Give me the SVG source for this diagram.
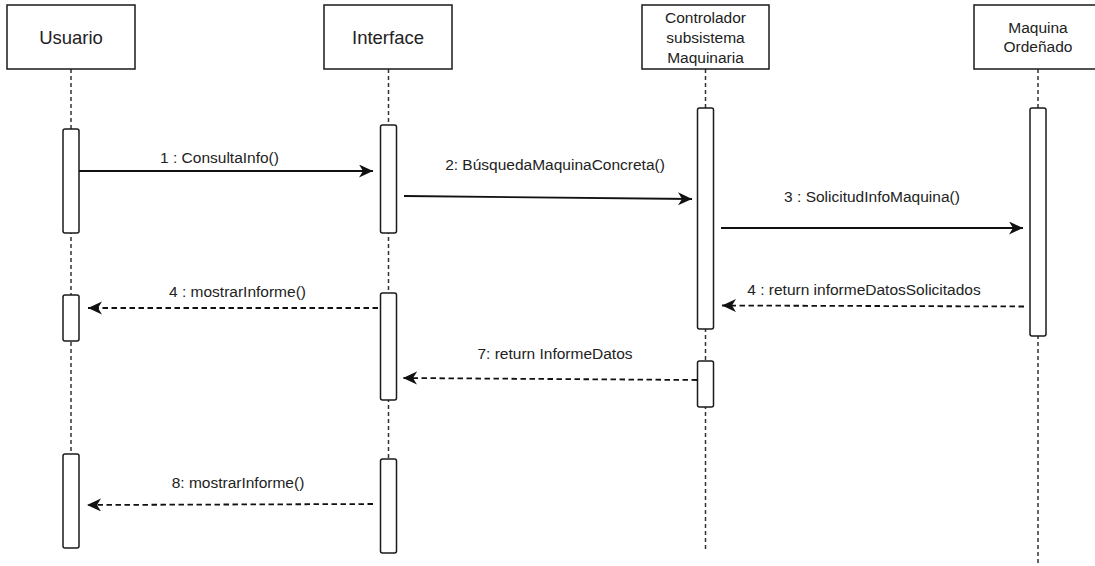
<svg xmlns="http://www.w3.org/2000/svg" width="1095" height="566" viewBox="0 0 1095 566">
  <style>
    .box { fill: #ffffff; stroke: #1a1a1a; stroke-width: 1.5; }
    .bar { fill: #ffffff; stroke: #1a1a1a; stroke-width: 1.5; }
    .life { fill: none; stroke: #333333; stroke-width: 1.5; stroke-dasharray: 4 3; }
    .msg { fill: none; stroke: #111111; stroke-width: 1.8; }
    .ret { fill: none; stroke: #111111; stroke-width: 1.8; stroke-dasharray: 5.5 3.5; }
    .name { font-family: "Liberation Sans", Arial, sans-serif; font-size: 18.5px; fill: #222222; text-anchor: middle; }
    .name2 { font-family: "Liberation Sans", Arial, sans-serif; font-size: 15.5px; fill: #222222; text-anchor: middle; }
    .lbl { font-family: "Liberation Sans", Arial, sans-serif; font-size: 15.5px; fill: #222222; text-anchor: middle; }
  </style>
  <defs>
    <marker id="arrow" markerUnits="userSpaceOnUse" markerWidth="16" markerHeight="14" refX="14" refY="6.5" orient="auto">
      <path d="M0,0 L14,6.5 L0,13 L4,6.5 Z" fill="#111111" stroke="none"/>
    </marker>
  </defs>

  <rect width="1095" height="566" fill="#ffffff"/>

  <!-- lifelines -->
  <g id="lifelines">
    <line class="life" x1="71" y1="69" x2="71" y2="454"/>
    <line class="life" x1="388.5" y1="69" x2="388.5" y2="459"/>
    <line class="life" x1="705.5" y1="69" x2="705.5" y2="552"/>
    <line class="life" x1="1038" y1="69" x2="1038" y2="566"/>
  </g>

  <g id="usuario">
    <rect class="box" x="7" y="5" width="128" height="64"/>
    <text class="name" x="71" y="43.5">Usuario</text>
    <rect class="bar" x="63" y="129" width="16" height="104" rx="2"/>
    <rect class="bar" x="63" y="295" width="16" height="46" rx="2"/>
    <rect class="bar" x="63" y="454" width="16" height="94" rx="2"/>
  </g>

  <g id="interface">
    <rect class="box" x="324" y="5" width="128" height="64"/>
    <text class="name" x="388" y="43.5">Interface</text>
    <rect class="bar" x="380.5" y="125" width="16" height="108" rx="2"/>
    <rect class="bar" x="380.5" y="293" width="16" height="107" rx="2"/>
    <rect class="bar" x="380.5" y="459" width="16" height="94" rx="2"/>
  </g>

  <g id="controlador">
    <rect class="box" x="642" y="5" width="127" height="64"/>
    <text class="name2" x="705.5" y="22.5">Controlador</text>
    <text class="name2" x="705.5" y="42.5">subsistema</text>
    <text class="name2" x="705.5" y="62.5">Maquinaria</text>
    <rect class="bar" x="697.5" y="108" width="16" height="221" rx="2"/>
    <rect class="bar" x="697.5" y="361" width="16" height="46" rx="2"/>
  </g>

  <g id="maquina">
    <rect class="box" x="974" y="5" width="128" height="64"/>
    <text class="name2" x="1038" y="32.5">Maquina</text>
    <text class="name2" x="1038" y="51.5">Ordeñado</text>
    <rect class="bar" x="1030" y="108" width="16" height="228" rx="2"/>
  </g>

  <!-- messages -->
  <g id="connectors">
    <line class="msg" x1="79" y1="171" x2="373" y2="171" marker-end="url(#arrow)"/>
    <line class="msg" x1="404" y1="196" x2="692" y2="199" marker-end="url(#arrow)"/>
    <line class="msg" x1="721" y1="228" x2="1023" y2="228" marker-end="url(#arrow)"/>
    <line class="ret" x1="1024" y1="306.5" x2="722" y2="305.5" marker-end="url(#arrow)"/>
    <line class="ret" x1="378" y1="308" x2="88" y2="308" marker-end="url(#arrow)"/>
    <line class="ret" x1="697" y1="380" x2="403" y2="378" marker-end="url(#arrow)"/>
    <line class="ret" x1="373" y1="504" x2="87" y2="505" marker-end="url(#arrow)"/>
  </g>

  <g id="labels">
    <text class="lbl" x="219.5" y="163">1 : ConsultaInfo()</text>
    <text class="lbl" x="555" y="170">2: BúsquedaMaquinaConcreta()</text>
    <text class="lbl" x="872" y="201.5">3 : SolicitudInfoMaquina()</text>
    <text class="lbl" x="864" y="295">4 : return informeDatosSolicitados</text>
    <text class="lbl" x="237.5" y="297">4 : mostrarInforme()</text>
    <text class="lbl" x="555" y="359">7: return InformeDatos</text>
    <text class="lbl" x="238" y="488">8: mostrarInforme()</text>
  </g>
</svg>
